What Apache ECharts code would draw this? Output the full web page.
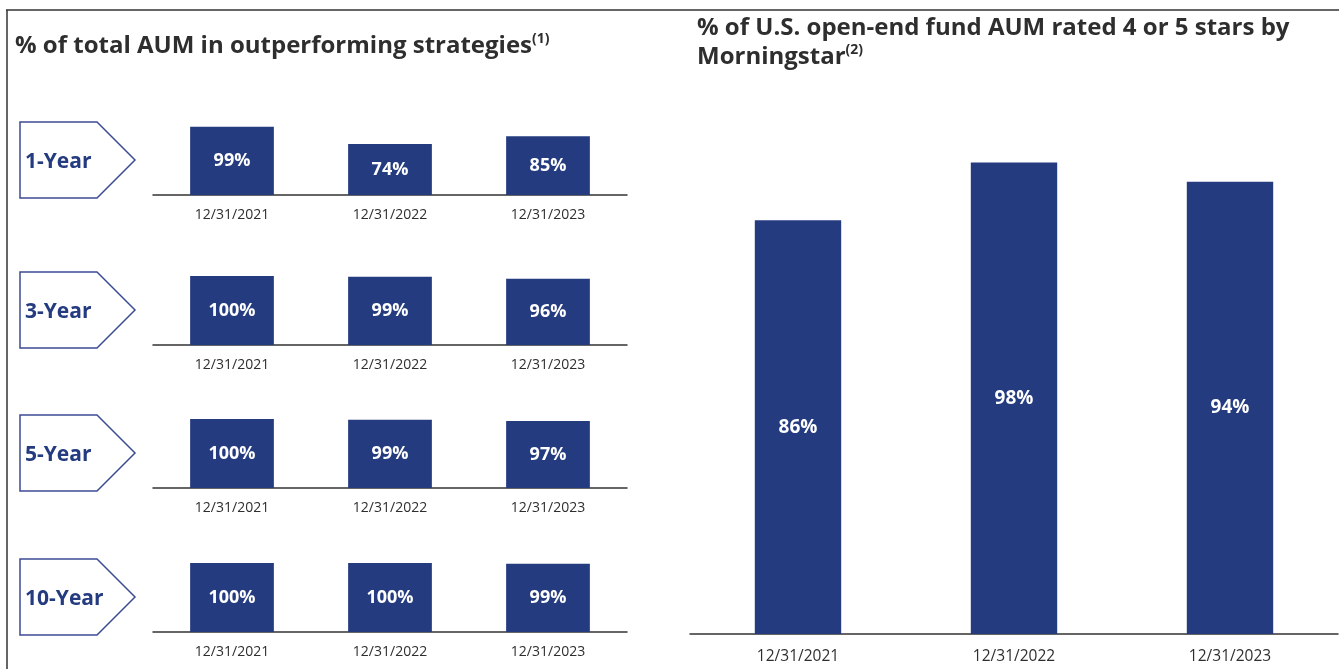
<!DOCTYPE html>
<html>
<head>
<meta charset="utf-8">
<script src="https://cdn.jsdelivr.net/npm/echarts@6/dist/echarts.min.js"></script>
<style>
  html, body { margin: 0; padding: 0; background: #fff; }
  #chart { width: 1339px; height: 669px; }
</style>
</head>
<body>
<div id="chart"></div>
<script>
// 数据
const dates = ['12/31/2021', '12/31/2022', '12/31/2023']
const periods = ['1-Year', '3-Year', '5-Year', '10-Year']
const outperf1Y = [99, 74, 85]
const outperf3Y = [100, 99, 96]
const outperf5Y = [100, 99, 97]
const outperf10Y = [100, 100, 99]
const morningstar = [86, 98, 94]

const outperfRows = [outperf1Y, outperf3Y, outperf5Y, outperf10Y]

// 样式
const barColor = '#243B80'
const textColor = '#2e2e2e'
const arrowColor = '#3B4B94'
const font = '"Open Sans", "Noto Sans", sans-serif'

// 左侧小图的基线位置
const baselines = [195, 345, 488, 632]
const smallH = 69

const chart = echarts.init(document.getElementById('chart'))

const grids = []
const xAxes = []
const yAxes = []
const series = []
const graphics = []

function addAxes(gridIdx, labelSize, margin) {
  xAxes.push({
    type: 'category',
    gridIndex: gridIdx,
    data: dates,
    axisLine: { lineStyle: { color: '#333', width: 1.5 } },
    axisTick: { show: false },
    axisLabel: { color: textColor, fontSize: labelSize, fontFamily: font, margin: margin }
  })
  yAxes.push({
    type: 'value',
    gridIndex: gridIdx,
    min: 0,
    max: 100,
    show: false
  })
}

outperfRows.forEach((vals, i) => {
  grids.push({ left: 153, width: 474, top: baselines[i] - smallH, height: smallH })
  addAxes(i, 14, 13)
  series.push({
    type: 'bar',
    xAxisIndex: i,
    yAxisIndex: i,
    data: vals,
    barWidth: '53%',
    itemStyle: { color: barColor },
    label: {
      show: true,
      position: 'inside',
      formatter: '{c}%',
      color: '#fff',
      fontWeight: 'bold',
      fontSize: 18,
      fontFamily: font
    }
  })

  // 箭头标签
  const c = baselines[i] - 35
  graphics.push({
    type: 'polygon',
    shape: { points: [[20, c - 38], [97, c - 38], [135, c], [97, c + 38], [20, c + 38]] },
    style: { fill: '#fff', stroke: arrowColor, lineWidth: 1.5 }
  })
  graphics.push({
    type: 'text',
    x: 25,
    y: c + 2,
    style: {
      text: periods[i],
      fill: barColor,
      font: 'bold 21px ' + font,
      textAlign: 'left',
      textVerticalAlign: 'middle'
    }
  })
})

// 右侧大图
grids.push({ left: 690, width: 648, top: 153, height: 481 })
addAxes(4, 15.5, 15)
series.push({
  type: 'bar',
  xAxisIndex: 4,
  yAxisIndex: 4,
  data: morningstar,
  barWidth: '40%',
  itemStyle: { color: barColor },
  label: {
    show: true,
    position: 'inside',
    formatter: '{c}%',
    color: '#fff',
    fontWeight: 'bold',
    fontSize: 19,
    fontFamily: font
  }
})

// 边框线
graphics.push({
  type: 'line',
  shape: { x1: 6, y1: 10, x2: 1339, y2: 10 },
  style: { stroke: '#333', lineWidth: 1.5 }
})
graphics.push({
  type: 'line',
  shape: { x1: 7, y1: 10, x2: 7, y2: 669 },
  style: { stroke: '#333', lineWidth: 1.5 }
})

const titleRich = {
  t: { fontSize: 24, fontWeight: 'bold', color: textColor, fontFamily: font, lineHeight: 29 },
  sup: { fontSize: 14, fontWeight: 'bold', color: textColor, fontFamily: font, verticalAlign: 'top', lineHeight: 29 }
}

const option = {
  animation: false,
  backgroundColor: '#fff',
  title: [
    {
      left: 15,
      top: 32,
      padding: 0,
      text: '{t|% of total AUM in outperforming strategies}{sup|(1)}',
      textStyle: { rich: titleRich }
    },
    {
      left: 697,
      top: 14,
      padding: 0,
      text: '{t|% of U.S. open-end fund AUM rated 4 or 5 stars by}\n{t|Morningstar}{sup|(2)}',
      textStyle: { rich: titleRich }
    }
  ],
  grid: grids,
  xAxis: xAxes,
  yAxis: yAxes,
  series: series,
  graphic: graphics
}

chart.setOption(option)
</script>
</body>
</html>
